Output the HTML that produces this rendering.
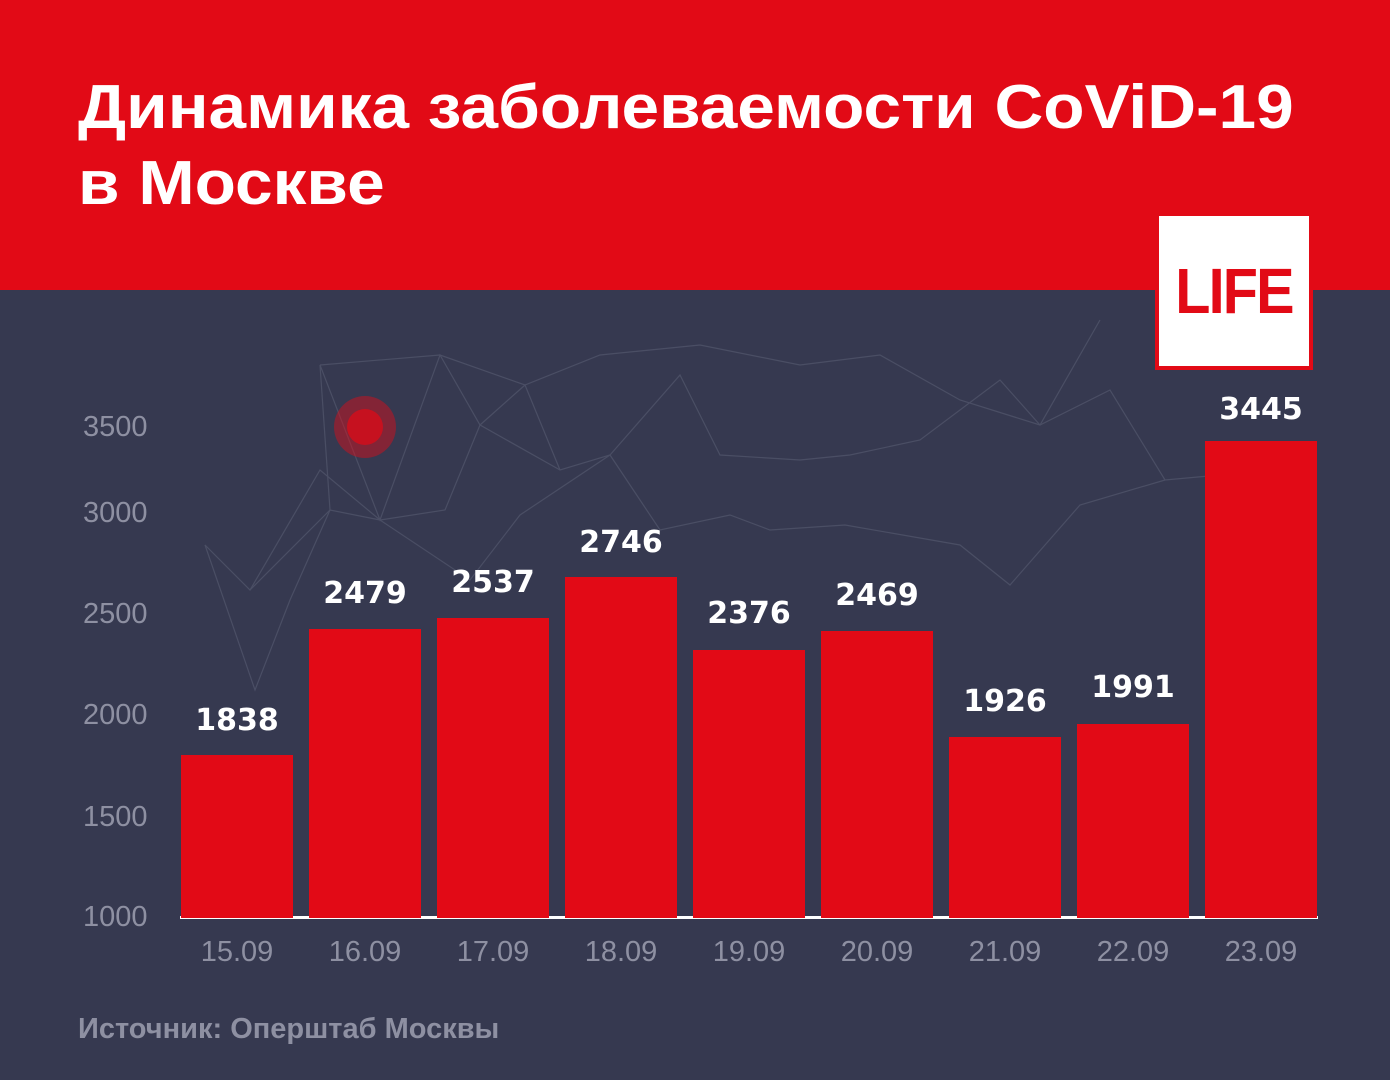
<!DOCTYPE html><html><head><meta charset="utf-8"><style>
body{margin:0;width:1390px;height:1080px;background:#363950;position:relative;overflow:hidden;font-family:"Liberation Sans",sans-serif}
.hdr{position:absolute;left:0;top:0;width:1390px;height:290px;background:#e20a16}
.t{position:absolute;left:78px;color:#fff;font-weight:bold;font-size:62px;white-space:nowrap;transform:scaleX(1.09);transform-origin:left top}
.bar{position:absolute;width:112px;background:#e20a16;bottom:162px}
.v{position:absolute;width:140px;text-align:center;color:#fff;font-weight:bold;font-size:30px;font-family:"DejaVu Sans",sans-serif}
.x{position:absolute;top:936px;width:128px;text-align:center;color:#8e90a2;font-size:29px}
.y{position:absolute;left:83px;color:#8e90a2;font-size:29px}
</style></head><body>
<div class="hdr"></div>
<svg style="position:absolute;left:0;top:0" width="1390" height="1080">
<g stroke="#50546a" stroke-width="1.2" fill="none" opacity="0.8">
<polyline points="205,545 250,590 320,470 380,520 445,510 480,425 560,470 610,455 680,375 720,455 800,460 850,455 920,440 1000,380 1040,425 1110,390 1165,480 1220,475"/>
<polyline points="250,590 330,510 380,520 470,580 520,515 610,455 660,530 730,515 770,530 845,525 960,545 1010,585 1080,505 1165,480"/>
<polyline points="320,365 440,355 525,385 600,355 700,345 800,365 880,355 960,400 1040,425 1100,320"/>
<polyline points="205,545 255,690 290,600 330,510 320,365 380,520 440,355 480,425 525,385 560,470"/>
</g>
<circle cx="365" cy="427" r="31" fill="#e20a16" opacity="0.45"/>
<circle cx="365" cy="427" r="18" fill="#e20a16" opacity="0.7"/>
<rect x="180" y="916" width="1138" height="3" fill="#fff"/>
</svg>
<div class="t" style="top:72px">Динамика заболеваемости CoViD-19</div>
<div class="t" style="top:148px">в Москве</div>
<div style="position:absolute;left:1155px;top:212px;width:150px;height:150px;background:#fff;border:4px solid #e20a16"></div>
<div style="position:absolute;left:1159px;top:254px;width:150px;text-align:center;color:#e20a16;font-weight:bold;font-size:64px;letter-spacing:-2px;transform:scaleX(0.9)">LIFE</div>
<div class="y" style="top:411px">3500</div>
<div class="y" style="top:497px">3000</div>
<div class="y" style="top:598px">2500</div>
<div class="y" style="top:699px">2000</div>
<div class="y" style="top:801px">1500</div>
<div class="y" style="top:901px">1000</div>
<div class="bar" style="left:181px;top:755px"></div>
<div class="bar" style="left:309px;top:629px"></div>
<div class="bar" style="left:437px;top:618px"></div>
<div class="bar" style="left:565px;top:577px"></div>
<div class="bar" style="left:693px;top:650px"></div>
<div class="bar" style="left:821px;top:631px"></div>
<div class="bar" style="left:949px;top:737px"></div>
<div class="bar" style="left:1077px;top:724px"></div>
<div class="bar" style="left:1205px;top:441px"></div>
<div class="v" style="left:167px;top:703px">1838</div>
<div class="v" style="left:295px;top:576px">2479</div>
<div class="v" style="left:423px;top:565px">2537</div>
<div class="v" style="left:551px;top:525px">2746</div>
<div class="v" style="left:679px;top:596px">2376</div>
<div class="v" style="left:807px;top:578px">2469</div>
<div class="v" style="left:935px;top:684px">1926</div>
<div class="v" style="left:1063px;top:670px">1991</div>
<div class="v" style="left:1191px;top:392px">3445</div>
<div class="x" style="left:173px">15.09</div>
<div class="x" style="left:301px">16.09</div>
<div class="x" style="left:429px">17.09</div>
<div class="x" style="left:557px">18.09</div>
<div class="x" style="left:685px">19.09</div>
<div class="x" style="left:813px">20.09</div>
<div class="x" style="left:941px">21.09</div>
<div class="x" style="left:1069px">22.09</div>
<div class="x" style="left:1197px">23.09</div>
<div style="position:absolute;left:78px;top:1013px;color:#8e90a2;font-size:29px;font-weight:bold">Источник: Оперштаб Москвы</div>
</body></html>
